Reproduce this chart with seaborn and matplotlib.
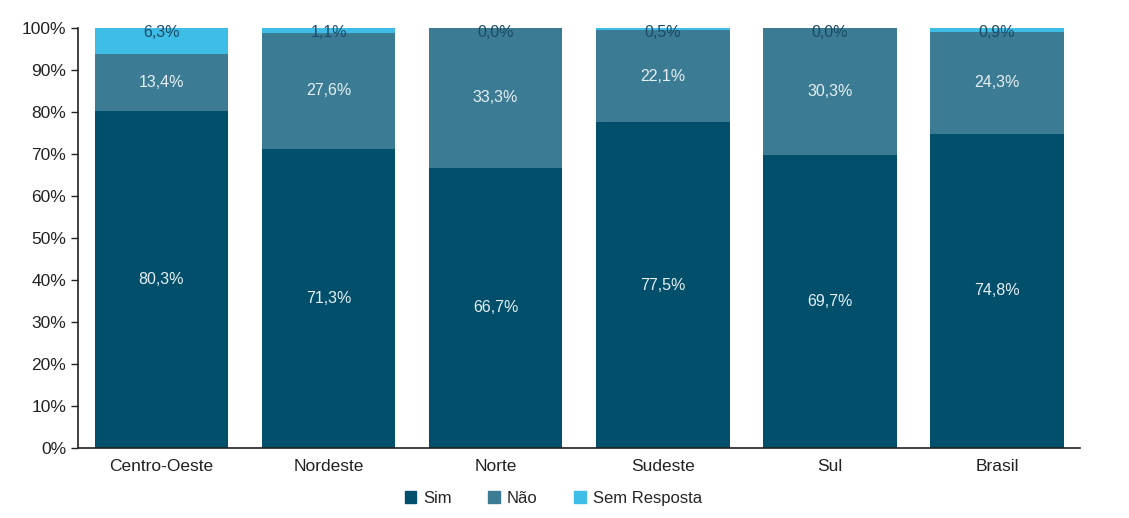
import matplotlib
matplotlib.use("Agg")
import matplotlib.pyplot as plt
from matplotlib.patches import Patch
from matplotlib.ticker import FixedLocator, PercentFormatter
import seaborn as sns
import pandas as pd
import numpy as np

regioes = ["Centro-Oeste", "Nordeste", "Norte", "Sudeste", "Sul", "Brasil"]
sim = [80.3, 71.3, 66.7, 77.5, 69.7, 74.8]
nao = [13.4, 27.6, 33.3, 22.1, 30.3, 24.3]
sem_resposta = [6.3, 1.1, 0.0, 0.5, 0.0, 0.9]

cor_sim = "#014f6b"
cor_nao = "#3b7b93"
cor_sem = "#3ebde6"

sns.set_style("white")
plt.rcParams["font.family"] = ["Liberation Sans Narrow", "Liberation Sans", "DejaVu Sans"]

df = pd.DataFrame({"regiao": regioes, "sim": sim, "nao": nao, "sem": sem_resposta})
df["topo_nao"] = df["sim"] + df["nao"]
df["topo_sem"] = (df["topo_nao"] + df["sem"]).clip(upper=100)

fig = plt.figure(figsize=(11.29, 5.18), dpi=100)
ax = fig.add_axes([0.069, 0.135, 0.888, 0.811])

# stacked look: draw the cumulative totals, tallest first
sns.barplot(data=df, x="regiao", y="topo_sem", color=cor_sem, width=0.8,
            saturation=1, ax=ax, linewidth=0)
sns.barplot(data=df, x="regiao", y="topo_nao", color=cor_nao, width=0.8,
            saturation=1, ax=ax, linewidth=0)
sns.barplot(data=df, x="regiao", y="sim", color=cor_sim, width=0.8,
            saturation=1, ax=ax, linewidth=0)

fmt = lambda v: f"{v:.1f}%".replace(".", ",")
for i, row in df.iterrows():
    ax.text(i, row["sim"] / 2, fmt(row["sim"]), ha="center", va="center",
            color="#e6f0f4", fontsize=11.5)
    ax.text(i, row["sim"] + row["nao"] / 2, fmt(row["nao"]), ha="center",
            va="center", color="#e6f0f4", fontsize=11.5)
    ax.text(i, 99.0, fmt(row["sem"]), ha="center", va="center",
            color="#1b4a66", fontsize=11.5)

ax.set_ylim(0, 100)
ax.set_xlim(-0.5, len(regioes) - 0.5)
ax.yaxis.set_major_locator(FixedLocator(np.arange(0, 101, 10)))
ax.yaxis.set_major_formatter(PercentFormatter(decimals=0))
ax.set_xlabel("")
ax.set_ylabel("")

ax.xaxis.set_minor_locator(FixedLocator(np.arange(-0.5, len(regioes), 1.0)))
ax.tick_params(axis="x", which="major", length=0, labelsize=12.5, pad=8, colors="#222222")
ax.tick_params(axis="x", which="minor", length=5, width=1, direction="out", color="#222222")
ax.tick_params(axis="y", length=5, width=1, direction="out", labelsize=12.5,
               left=True, colors="#222222")

sns.despine(ax=ax)
for s in ["left", "bottom"]:
    ax.spines[s].set_color("#222222")
    ax.spines[s].set_linewidth(1.2)

handles = [Patch(color=cor_sim, label="Sim"),
           Patch(color=cor_nao, label="Não"),
           Patch(color=cor_sem, label="Sem Resposta")]
fig.legend(handles=handles, loc="lower center", bbox_to_anchor=(0.49, -0.005),
           ncol=3, frameon=False, fontsize=12, handlelength=0.7, handleheight=0.7,
           handletextpad=0.4, columnspacing=2.2)

fig.savefig("out.png", dpi=100)
